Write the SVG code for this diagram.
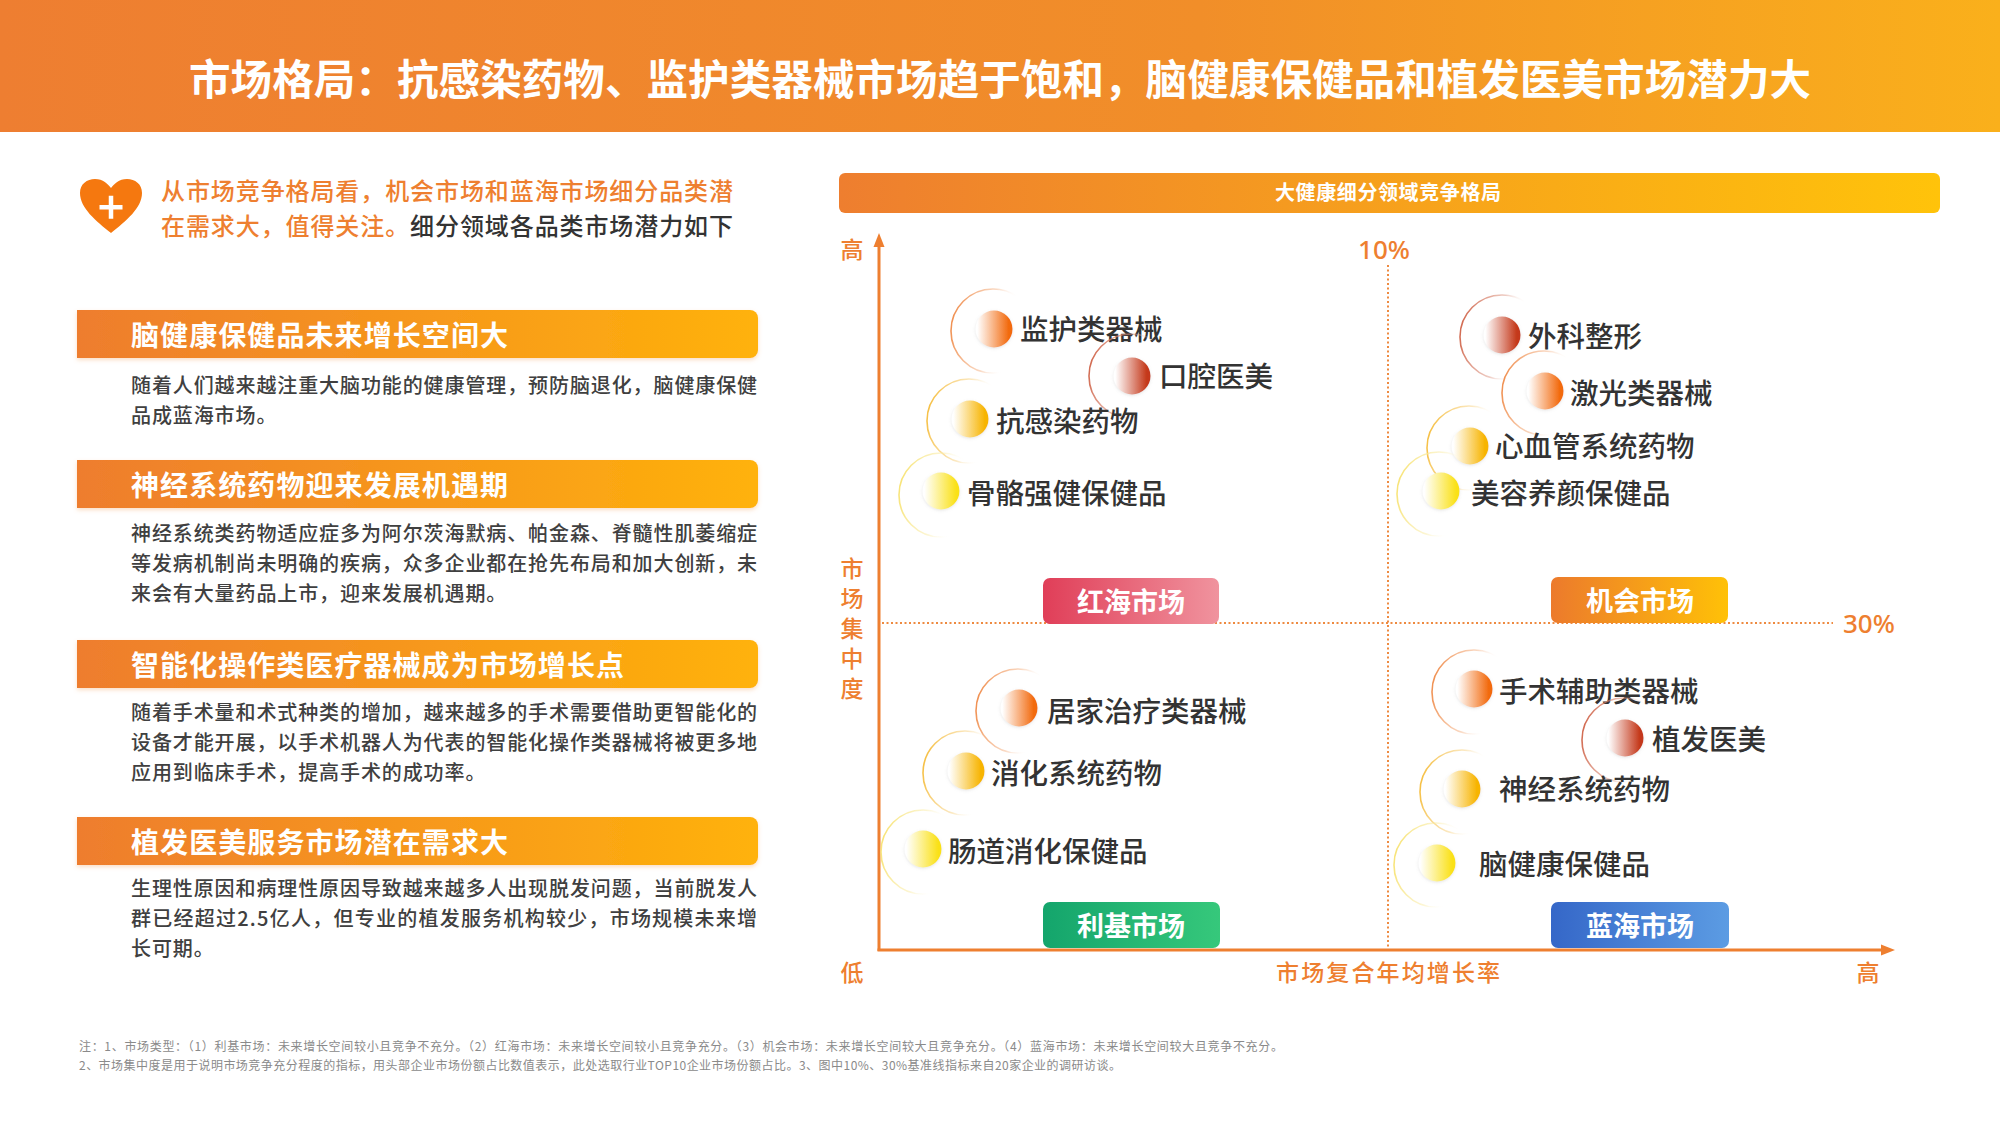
<svg xmlns="http://www.w3.org/2000/svg" width="2000" height="1125" viewBox="0 0 2000 1125">
<defs>
<style>
.cjk{font-family:"Noto Sans CJK SC","Noto Sans",sans-serif}
.title{font-size:41.5px;font-weight:700;fill:#fff}
.intro{font-size:24px;font-weight:500}
.bart{font-size:28px;font-weight:700;fill:#fff}
.body{font-size:20px;fill:#404040;letter-spacing:0.9px;font-weight:500}
.lbl{font-size:28.5px;fill:#333;font-weight:500}
.quad{font-size:27px;font-weight:700;fill:#fff}
.axl{font-size:23px;fill:#EE7F30;font-weight:500}
.pct{font-family:"Noto Sans","Liberation Sans",sans-serif;font-size:26px;fill:#EE7F30;font-weight:500}
.note{font-size:12px;fill:#8a8a8a}
.ring{fill:none;stroke-width:1.6}
</style>
<linearGradient id="gHead" x1="0" y1="0" x2="1" y2="0"><stop offset="0" stop-color="#EE7E31"/><stop offset="0.6" stop-color="#F18E29"/><stop offset="1" stop-color="#FAB01B"/></linearGradient>
<linearGradient id="gBar" x1="0" y1="0" x2="1" y2="0"><stop offset="0" stop-color="#EE7D2E"/><stop offset="1" stop-color="#FFB20A"/></linearGradient>
<linearGradient id="gChart" x1="0" y1="0" x2="1" y2="0"><stop offset="0" stop-color="#EE7E2F"/><stop offset="1" stop-color="#FFC30A"/></linearGradient>
<linearGradient id="qRed" x1="0" y1="0" x2="1" y2="0"><stop offset="0" stop-color="#E03E58"/><stop offset="1" stop-color="#F0939E"/></linearGradient>
<linearGradient id="qOrange" x1="0" y1="0" x2="1" y2="0"><stop offset="0" stop-color="#EC7A2C"/><stop offset="1" stop-color="#FFC107"/></linearGradient>
<linearGradient id="qGreen" x1="0" y1="0" x2="1" y2="0"><stop offset="0" stop-color="#14A56C"/><stop offset="1" stop-color="#36C87B"/></linearGradient>
<linearGradient id="qBlue" x1="0" y1="0" x2="1" y2="0"><stop offset="0" stop-color="#3567C8"/><stop offset="1" stop-color="#5C9CE3"/></linearGradient>
<linearGradient id="dRed" x1="0" y1="0" x2="1" y2="0"><stop offset="0.05" stop-color="#fff"/><stop offset="0.9" stop-color="#C4381A"/></linearGradient>
<linearGradient id="dOrange" x1="0" y1="0" x2="1" y2="0"><stop offset="0.05" stop-color="#fff"/><stop offset="0.9" stop-color="#F26A0E"/></linearGradient>
<linearGradient id="dYO" x1="0" y1="0" x2="1" y2="0"><stop offset="0.05" stop-color="#fff"/><stop offset="0.9" stop-color="#F7B400"/></linearGradient>
<linearGradient id="dYel" x1="0" y1="0" x2="1" y2="0"><stop offset="0.05" stop-color="#fff"/><stop offset="0.9" stop-color="#FAE118"/></linearGradient>
<linearGradient id="rRed" x1="0" y1="0.4" x2="1" y2="0.6"><stop offset="0" stop-color="#CF6247" stop-opacity="0.95"/><stop offset="0.45" stop-color="#DE9A88" stop-opacity="0.5"/><stop offset="0.7" stop-color="#fff" stop-opacity="0"/></linearGradient>
<linearGradient id="rOrange" x1="0" y1="0.4" x2="1" y2="0.6"><stop offset="0" stop-color="#EF8A48" stop-opacity="0.95"/><stop offset="0.45" stop-color="#F5B488" stop-opacity="0.5"/><stop offset="0.7" stop-color="#fff" stop-opacity="0"/></linearGradient>
<linearGradient id="rYO" x1="0" y1="0.4" x2="1" y2="0.6"><stop offset="0" stop-color="#F5BC3A" stop-opacity="0.95"/><stop offset="0.45" stop-color="#F8D488" stop-opacity="0.5"/><stop offset="0.7" stop-color="#fff" stop-opacity="0"/></linearGradient>
<linearGradient id="rYel" x1="0" y1="0.4" x2="1" y2="0.6"><stop offset="0" stop-color="#F7E270" stop-opacity="0.95"/><stop offset="0.45" stop-color="#FAEDAA" stop-opacity="0.5"/><stop offset="0.7" stop-color="#fff" stop-opacity="0"/></linearGradient>
<filter id="sh" x="-5%" y="-20%" width="110%" height="150%"><feDropShadow dx="0" dy="2" stdDeviation="2" flood-color="#F0A060" flood-opacity="0.35"/></filter>
<filter id="dsh" x="-50%" y="-50%" width="200%" height="200%"><feDropShadow dx="0" dy="1" stdDeviation="1.5" flood-color="#999" flood-opacity="0.25"/></filter>
</defs>

<rect width="2000" height="1125" fill="#fff"/>

<g id="header">
<rect x="0" y="0" width="2000" height="132" fill="url(#gHead)"/>
<text class="cjk title" x="1000" y="95" text-anchor="middle" textLength="1622" lengthAdjust="spacing">市场格局：抗感染药物、监护类器械市场趋于饱和，脑健康保健品和植发医美市场潜力大</text>
</g>

<g id="intro">
<path d="M111,233 C96,221 80,208 80,193 C80,184 87,179 95,179 C103,179 108,184 111,188 C114,184 119,179 127,179 C135,179 142,184 142,193 C142,208 126,221 111,233 Z" fill="#F5780F"/>
<rect x="99.5" y="205" width="23" height="4.5" fill="#fff"/>
<rect x="108.75" y="195.75" width="4.5" height="23" fill="#fff"/>
<text class="cjk intro" x="161" y="200" fill="#EE7F30" textLength="572" lengthAdjust="spacing">从市场竞争格局看，机会市场和蓝海市场细分品类潜</text>
<text class="cjk intro" x="161" y="235" textLength="572" lengthAdjust="spacing"><tspan fill="#EE7F30">在需求大，值得关注。</tspan><tspan fill="#333">细分领域各品类市场潜力如下</tspan></text>
</g>

<g id="sec1">
<path d="M77,310 H750 A8,8 0 0 1 758,318 V350 A8,8 0 0 1 750,358 H77 Z" fill="url(#gBar)" filter="url(#sh)"/>
<text class="cjk bart" x="131" y="346" textLength="377" lengthAdjust="spacing">脑健康保健品未来增长空间大</text>
<text class="cjk body" x="131" y="393" textLength="627" lengthAdjust="spacing">随着人们越来越注重大脑功能的健康管理，预防脑退化，脑健康保健</text>
<text class="cjk body" x="131" y="423">品成蓝海市场。</text>
</g>

<g id="sec2">
<path d="M77,460 H750 A8,8 0 0 1 758,468 V500 A8,8 0 0 1 750,508 H77 Z" fill="url(#gBar)" filter="url(#sh)"/>
<text class="cjk bart" x="131" y="496" textLength="377" lengthAdjust="spacing">神经系统药物迎来发展机遇期</text>
<text class="cjk body" x="131" y="541" textLength="627" lengthAdjust="spacing">神经系统类药物适应症多为阿尔茨海默病、帕金森、脊髓性肌萎缩症</text>
<text class="cjk body" x="131" y="571" textLength="627" lengthAdjust="spacing">等发病机制尚未明确的疾病，众多企业都在抢先布局和加大创新，未</text>
<text class="cjk body" x="131" y="601">来会有大量药品上市，迎来发展机遇期。</text>
</g>

<g id="sec3">
<path d="M77,640 H750 A8,8 0 0 1 758,648 V680 A8,8 0 0 1 750,688 H77 Z" fill="url(#gBar)" filter="url(#sh)"/>
<text class="cjk bart" x="131" y="676" textLength="493" lengthAdjust="spacing">智能化操作类医疗器械成为市场增长点</text>
<text class="cjk body" x="131" y="720" textLength="627" lengthAdjust="spacing">随着手术量和术式种类的增加，越来越多的手术需要借助更智能化的</text>
<text class="cjk body" x="131" y="750" textLength="627" lengthAdjust="spacing">设备才能开展，以手术机器人为代表的智能化操作类器械将被更多地</text>
<text class="cjk body" x="131" y="780">应用到临床手术，提高手术的成功率。</text>
</g>

<g id="sec4">
<path d="M77,817 H750 A8,8 0 0 1 758,825 V857 A8,8 0 0 1 750,865 H77 Z" fill="url(#gBar)" filter="url(#sh)"/>
<text class="cjk bart" x="131" y="853" textLength="377" lengthAdjust="spacing">植发医美服务市场潜在需求大</text>
<text class="cjk body" x="131" y="896" textLength="627" lengthAdjust="spacing">生理性原因和病理性原因导致越来越多人出现脱发问题，当前脱发人</text>
<text class="cjk body" x="131" y="926" textLength="627" lengthAdjust="spacing">群已经超过2.5亿人，但专业的植发服务机构较少，市场规模未来增</text>
<text class="cjk body" x="131" y="956">长可期。</text>
</g>

<g id="chart-title">
<rect x="839" y="173" width="1101" height="40" rx="6" fill="url(#gChart)"/>
<text class="cjk" x="1388" y="200" text-anchor="middle" font-size="20" font-weight="700" fill="#fff" textLength="226" lengthAdjust="spacing">大健康细分领域竞争格局</text>
</g>

<g id="connectors">
<line x1="1388" y1="265" x2="1388" y2="948" stroke="#EE8A40" stroke-width="2" stroke-dasharray="2 2.5"/>
<line x1="882" y1="623" x2="1833" y2="623" stroke="#EE8A40" stroke-width="2" stroke-dasharray="2 2.5"/>
<line x1="879" y1="951" x2="879" y2="242" stroke="#EE7F30" stroke-width="3"/>
<polygon points="879,233 873.5,247 884.5,247" fill="#EE7F30"/>
<line x1="877.5" y1="950" x2="1884" y2="950" stroke="#EE7F30" stroke-width="3"/>
<polygon points="1895,950 1881,944.5 1881,955.5" fill="#EE7F30"/>
</g>

<g id="axis-labels">
<text class="cjk axl" x="852" y="258" text-anchor="middle">高</text>
<text class="cjk axl" x="852" y="577" text-anchor="middle">市</text>
<text class="cjk axl" x="852" y="607" text-anchor="middle">场</text>
<text class="cjk axl" x="852" y="637" text-anchor="middle">集</text>
<text class="cjk axl" x="852" y="667" text-anchor="middle">中</text>
<text class="cjk axl" x="852" y="697" text-anchor="middle">度</text>
<text class="cjk axl" x="852" y="981" text-anchor="middle">低</text>
<text class="cjk axl" x="1388" y="981" text-anchor="middle" textLength="224" lengthAdjust="spacing">市场复合年均增长率</text>
<text class="cjk axl" x="1868" y="981" text-anchor="middle">高</text>
<text class="pct" x="1384" y="259" text-anchor="middle">10%</text>
<text class="pct" x="1843" y="633">30%</text>
</g>

<g id="q-red">
<rect x="1043" y="578" width="176" height="46" rx="7" fill="url(#qRed)"/>
<text class="cjk quad" x="1131" y="612" text-anchor="middle">红海市场</text>
</g>
<g id="q-opportunity">
<rect x="1551" y="577" width="177" height="46" rx="7" fill="url(#qOrange)"/>
<text class="cjk quad" x="1640" y="611" text-anchor="middle">机会市场</text>
</g>
<g id="q-niche">
<rect x="1043" y="902" width="177" height="46" rx="7" fill="url(#qGreen)"/>
<text class="cjk quad" x="1131" y="936" text-anchor="middle">利基市场</text>
</g>
<g id="q-blue">
<rect x="1551" y="902" width="178" height="46" rx="7" fill="url(#qBlue)"/>
<text class="cjk quad" x="1640" y="936" text-anchor="middle">蓝海市场</text>
</g>

<g id="n-jianhu">
<circle class="ring" cx="993" cy="331" r="42" stroke="url(#rOrange)"/>
<circle cx="994" cy="329" r="18.5" fill="url(#dOrange)" filter="url(#dsh)"/>
<text class="cjk lbl" x="1020" y="340">监护类器械</text>
</g>
<g id="n-kouqiang">
<circle class="ring" cx="1131" cy="376" r="42" stroke="url(#rRed)"/>
<circle cx="1132" cy="376" r="18.5" fill="url(#dRed)" filter="url(#dsh)"/>
<text class="cjk lbl" x="1159" y="387">口腔医美</text>
</g>
<g id="n-kanggan">
<circle class="ring" cx="969" cy="421" r="42" stroke="url(#rYO)"/>
<circle cx="970" cy="419" r="18.5" fill="url(#dYO)" filter="url(#dsh)"/>
<text class="cjk lbl" x="996" y="432">抗感染药物</text>
</g>
<g id="n-guge">
<circle class="ring" cx="941" cy="495" r="42" stroke="url(#rYel)"/>
<circle cx="941" cy="491" r="18.5" fill="url(#dYel)" filter="url(#dsh)"/>
<text class="cjk lbl" x="967" y="504">骨骼强健保健品</text>
</g>
<g id="n-waike">
<circle class="ring" cx="1502" cy="337" r="42" stroke="url(#rRed)"/>
<circle cx="1502" cy="335" r="18.5" fill="url(#dRed)" filter="url(#dsh)"/>
<text class="cjk lbl" x="1528" y="347">外科整形</text>
</g>
<g id="n-jiguang">
<circle class="ring" cx="1544" cy="393" r="42" stroke="url(#rOrange)"/>
<circle cx="1545" cy="391" r="18.5" fill="url(#dOrange)" filter="url(#dsh)"/>
<text class="cjk lbl" x="1570" y="404">激光类器械</text>
</g>
<g id="n-xinxueguan">
<circle class="ring" cx="1469" cy="448" r="42" stroke="url(#rYO)"/>
<circle cx="1470" cy="446" r="18.5" fill="url(#dYO)" filter="url(#dsh)"/>
<text class="cjk lbl" x="1495" y="457">心血管系统药物</text>
</g>
<g id="n-meirong">
<circle class="ring" cx="1439" cy="494" r="42" stroke="url(#rYel)"/>
<circle cx="1441" cy="491" r="18.5" fill="url(#dYel)" filter="url(#dsh)"/>
<text class="cjk lbl" x="1471" y="504">美容养颜保健品</text>
</g>
<g id="n-jujia">
<circle class="ring" cx="1018" cy="711" r="42" stroke="url(#rOrange)"/>
<circle cx="1019" cy="708" r="18.5" fill="url(#dOrange)" filter="url(#dsh)"/>
<text class="cjk lbl" x="1047" y="722">居家治疗类器械</text>
</g>
<g id="n-xiaohua">
<circle class="ring" cx="965" cy="773" r="42" stroke="url(#rYO)"/>
<circle cx="966" cy="771" r="18.5" fill="url(#dYO)" filter="url(#dsh)"/>
<text class="cjk lbl" x="991" y="784">消化系统药物</text>
</g>
<g id="n-changdao">
<circle class="ring" cx="923" cy="852" r="42" stroke="url(#rYel)"/>
<circle cx="923" cy="849" r="18.5" fill="url(#dYel)" filter="url(#dsh)"/>
<text class="cjk lbl" x="948" y="862">肠道消化保健品</text>
</g>
<g id="n-shoushu">
<circle class="ring" cx="1474" cy="692" r="42" stroke="url(#rOrange)"/>
<circle cx="1474" cy="689" r="18.5" fill="url(#dOrange)" filter="url(#dsh)"/>
<text class="cjk lbl" x="1499" y="702">手术辅助类器械</text>
</g>
<g id="n-zhifa">
<circle class="ring" cx="1624" cy="740" r="42" stroke="url(#rRed)"/>
<circle cx="1625" cy="738" r="18.5" fill="url(#dRed)" filter="url(#dsh)"/>
<text class="cjk lbl" x="1652" y="750">植发医美</text>
</g>
<g id="n-shenjing">
<circle class="ring" cx="1462" cy="792" r="42" stroke="url(#rYO)"/>
<circle cx="1462" cy="789" r="18.5" fill="url(#dYO)" filter="url(#dsh)"/>
<text class="cjk lbl" x="1499" y="800">神经系统药物</text>
</g>
<g id="n-naojiankang">
<circle class="ring" cx="1436" cy="865" r="42" stroke="url(#rYel)"/>
<circle cx="1437" cy="863" r="18.5" fill="url(#dYel)" filter="url(#dsh)"/>
<text class="cjk lbl" x="1479" y="875">脑健康保健品</text>
</g>

<g id="footnote">
<text class="cjk note" x="79" y="1051" textLength="1204" lengthAdjust="spacing">注：1、市场类型：（1）利基市场：未来增长空间较小且竞争不充分。（2）红海市场：未来增长空间较小且竞争充分。（3）机会市场：未来增长空间较大且竞争充分。（4）蓝海市场：未来增长空间较大且竞争不充分。</text>
<text class="cjk note" x="79" y="1070" textLength="1042" lengthAdjust="spacing">2、市场集中度是用于说明市场竞争充分程度的指标，用头部企业市场份额占比数值表示，此处选取行业TOP10企业市场份额占比。3、图中10%、30%基准线指标来自20家企业的调研访谈。</text>
</g>
</svg>
